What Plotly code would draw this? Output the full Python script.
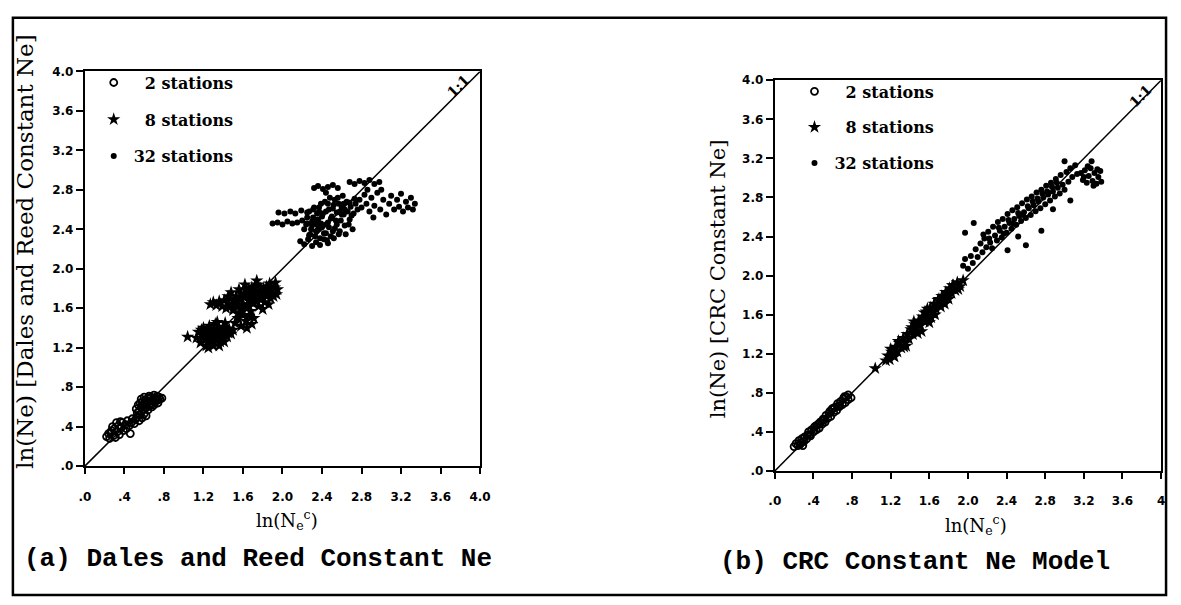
import plotly.graph_objects as go

W, H = 1181, 605

# ---------------- data ----------------
tick_vals = [0.0, 0.4, 0.8, 1.2, 1.6, 2.0, 2.4, 2.8, 3.2, 3.6, 4.0]
tick_text_a = [".0", ".4", ".8", "1.2", "1.6", "2.0", "2.4", "2.8", "3.2", "3.6", "4.0"]
tick_text_b_x = [".0", ".4", ".8", "1.2", "1.6", "2.0", "2.4", "2.8", "3.2", "3.6", "4"]
tick_text_b_y = [".0", ".4", ".8", "1.2", "1.6", "2.0", "2.4", "2.8", "3.2", "3.6", "4.0"]
series_names = ["\u20072 stations", "\u20078 stations", "32 stations"]

# (a) Dales and Reed constant Ne
a_st2_x = [0.22, 0.24, 0.25, 0.27, 0.29, 0.30, 0.31, 0.33, 0.34, 0.35, 0.37, 0.38, 0.39, 0.41, 0.42, 0.43,
           0.45, 0.46, 0.47, 0.48, 0.50, 0.51, 0.53, 0.55, 0.56, 0.58, 0.60, 0.62, 0.28, 0.32, 0.36, 0.26,
           0.52, 0.54, 0.55, 0.57, 0.58, 0.59, 0.60, 0.61, 0.62, 0.63, 0.64, 0.65, 0.66, 0.67, 0.68, 0.69,
           0.70, 0.71, 0.72, 0.73, 0.74, 0.75, 0.76, 0.78, 0.56, 0.60, 0.64, 0.68, 0.53, 0.70,
           0.57, 0.62, 0.66, 0.71, 0.74, 0.59, 0.65, 0.69]
a_st2_y = [0.30, 0.33, 0.28, 0.36, 0.31, 0.38, 0.29, 0.35, 0.41, 0.32, 0.39, 0.44, 0.36, 0.42, 0.38, 0.46,
           0.41, 0.33, 0.44, 0.48, 0.43, 0.47, 0.50, 0.46, 0.52, 0.49, 0.53, 0.51, 0.40, 0.44, 0.45, 0.34,
           0.58, 0.62, 0.56, 0.60, 0.65, 0.57, 0.62, 0.67, 0.59, 0.64, 0.69, 0.61, 0.66, 0.70, 0.63, 0.68,
           0.72, 0.65, 0.69, 0.71, 0.67, 0.70, 0.68, 0.69, 0.64, 0.70, 0.57, 0.60, 0.54, 0.62,
           0.68, 0.66, 0.63, 0.68, 0.64, 0.61, 0.71, 0.66]

a_st8_x = [1.04, 1.13, 1.15, 1.17, 1.19, 1.20, 1.22, 1.23, 1.24, 1.26, 1.27, 1.28, 1.30, 1.31, 1.32, 1.33,
           1.35, 1.36, 1.37, 1.38, 1.40, 1.41, 1.43, 1.44, 1.46, 1.48, 1.50, 1.25, 1.34, 1.42,
           1.18, 1.21, 1.26, 1.29, 1.34, 1.39, 1.45, 1.30, 1.37, 1.42,
           1.52, 1.55, 1.58, 1.60, 1.63, 1.66, 1.69, 1.71, 1.56, 1.64,
           1.27, 1.30, 1.33, 1.36, 1.39, 1.41, 1.43, 1.45, 1.47, 1.49, 1.50, 1.52, 1.53, 1.55, 1.57, 1.58,
           1.60, 1.61, 1.63, 1.64, 1.66, 1.67, 1.69, 1.70, 1.72, 1.73, 1.75, 1.76, 1.78, 1.79, 1.81, 1.82,
           1.84, 1.85, 1.87, 1.88, 1.90, 1.92, 1.94, 1.95, 1.74, 1.62, 1.56, 1.68, 1.80, 1.48, 1.86, 1.93,
           1.45, 1.51, 1.54, 1.59, 1.62, 1.65, 1.68, 1.71, 1.74, 1.77, 1.80, 1.83, 1.86, 1.89, 1.91, 1.58,
           1.66, 1.72, 1.78, 1.84]
a_st8_y = [1.31, 1.30, 1.36, 1.25, 1.33, 1.40, 1.28, 1.22, 1.35, 1.42, 1.30, 1.25, 1.37, 1.32, 1.44, 1.27,
           1.39, 1.22, 1.34, 1.30, 1.41, 1.26, 1.36, 1.31, 1.39, 1.34, 1.38, 1.20, 1.46, 1.45,
           1.38, 1.31, 1.36, 1.28, 1.32, 1.34, 1.35, 1.22, 1.26, 1.39,
           1.45, 1.50, 1.42, 1.53, 1.47, 1.52, 1.44, 1.50, 1.55, 1.40,
           1.64, 1.66, 1.63, 1.67, 1.62, 1.68, 1.60, 1.65, 1.70, 1.63, 1.58, 1.67, 1.72, 1.62, 1.69, 1.75,
           1.64, 1.71, 1.78, 1.60, 1.68, 1.74, 1.81, 1.65, 1.71, 1.77, 1.84, 1.62, 1.69, 1.75, 1.80, 1.66,
           1.72, 1.78, 1.85, 1.70, 1.76, 1.81, 1.74, 1.79, 1.88, 1.84, 1.79, 1.57, 1.59, 1.76, 1.64, 1.86,
           1.72, 1.62, 1.68, 1.60, 1.74, 1.64, 1.70, 1.76, 1.67, 1.73, 1.70, 1.77, 1.74, 1.80, 1.72, 1.71,
           1.79, 1.82, 1.80, 1.82]

a_st32_x = [1.90, 1.95, 2.00, 2.05, 2.10, 2.15, 2.20, 2.25, 2.30, 2.35,
            1.96, 2.02, 2.08, 2.13, 2.19, 2.25, 2.31, 2.37,
            2.22, 2.25, 2.28, 2.30, 2.32, 2.34, 2.36, 2.38, 2.40, 2.41, 2.43, 2.44, 2.46, 2.47, 2.49, 2.50,
            2.52, 2.53, 2.55, 2.56, 2.58, 2.59, 2.60, 2.62, 2.63, 2.65, 2.66, 2.68, 2.69, 2.71, 2.72, 2.74,
            2.76, 2.35, 2.45, 2.57, 2.64, 2.48, 2.39, 2.61,
            2.24, 2.27, 2.31, 2.33, 2.37, 2.39, 2.42, 2.44, 2.47, 2.51, 2.54, 2.57, 2.60, 2.62, 2.67, 2.70,
            2.73, 2.51, 2.40, 2.55, 2.63, 2.46, 2.36, 2.58, 2.68, 2.29, 2.34, 2.49, 2.44, 2.53,
            2.18, 2.22, 2.26, 2.30, 2.34, 2.38, 2.42, 2.46, 2.52, 2.27,
            2.32, 2.36, 2.41, 2.46, 2.51, 2.56, 2.68, 2.73, 2.78, 2.83, 2.88, 2.93, 2.98, 2.86, 2.44,
            2.78, 2.80, 2.83, 2.85, 2.88, 2.90, 2.93, 2.96, 2.99, 3.02, 3.05, 3.08, 3.10, 3.13, 3.16, 3.18,
            3.20, 3.22, 3.25, 3.27, 3.30, 3.32, 3.34, 2.92, 3.00]
a_st32_y = [2.46, 2.47, 2.45, 2.48, 2.46, 2.47, 2.49, 2.46, 2.48, 2.45,
            2.57, 2.56, 2.58, 2.56, 2.59, 2.57, 2.60, 2.58,
            2.40, 2.52, 2.35, 2.44, 2.62, 2.38, 2.50, 2.31, 2.42, 2.56, 2.68, 2.36, 2.47, 2.60, 2.33, 2.53,
            2.65, 2.41, 2.57, 2.72, 2.38, 2.49, 2.62, 2.55, 2.44, 2.68, 2.58, 2.50, 2.63, 2.40, 2.56, 2.66,
            2.60, 2.56, 2.29, 2.66, 2.35, 2.72, 2.66, 2.74,
            2.45, 2.58, 2.52, 2.33, 2.62, 2.46, 2.36, 2.58, 2.42, 2.61, 2.49, 2.35, 2.55, 2.66, 2.45, 2.54,
            2.71, 2.38, 2.53, 2.45, 2.60, 2.66, 2.40, 2.58, 2.67, 2.40, 2.47, 2.51, 2.45, 2.70,
            2.28, 2.25, 2.30, 2.23, 2.27, 2.24, 2.30, 2.26, 2.31, 2.34,
            2.82, 2.84, 2.81, 2.83, 2.85, 2.82, 2.88, 2.86, 2.89, 2.87, 2.90, 2.86, 2.88, 2.80, 2.77,
            2.70, 2.62, 2.75, 2.66, 2.58, 2.72, 2.64, 2.77, 2.60, 2.70, 2.55, 2.66, 2.74, 2.60, 2.70, 2.63,
            2.76, 2.58, 2.68, 2.62, 2.72, 2.60, 2.66, 2.52, 2.80]

# (b) CRC constant Ne model
b_st2_x = [0.20, 0.22, 0.24, 0.25, 0.27, 0.28, 0.30, 0.31, 0.33, 0.34, 0.35, 0.37, 0.38, 0.40, 0.41, 0.43,
           0.44, 0.46, 0.47, 0.49, 0.50, 0.52, 0.53, 0.55, 0.56, 0.58, 0.59, 0.61, 0.62, 0.64, 0.65, 0.67,
           0.68, 0.70, 0.71, 0.73, 0.74, 0.76, 0.76, 0.79, 0.29, 0.45, 0.60,
           0.26, 0.36, 0.42, 0.51, 0.57, 0.66, 0.72]
b_st2_y = [0.25, 0.28, 0.26, 0.31, 0.29, 0.33, 0.30, 0.35, 0.33, 0.37, 0.40, 0.36, 0.42, 0.40, 0.45, 0.42,
           0.47, 0.44, 0.50, 0.48, 0.53, 0.50, 0.57, 0.54, 0.59, 0.56, 0.63, 0.60, 0.65, 0.62, 0.69, 0.66,
           0.71, 0.68, 0.74, 0.70, 0.76, 0.73, 0.78, 0.75, 0.26, 0.48, 0.64,
           0.27, 0.37, 0.46, 0.52, 0.61, 0.67, 0.76]

b_st8_x = [1.04, 1.15, 1.17, 1.19, 1.21, 1.23, 1.25, 1.27, 1.29, 1.31, 1.33, 1.35, 1.37, 1.39, 1.41, 1.43,
           1.45, 1.47, 1.49, 1.51, 1.53, 1.55, 1.57, 1.59, 1.61, 1.63, 1.65, 1.67, 1.69, 1.71, 1.73, 1.75,
           1.77, 1.79, 1.81, 1.83, 1.85, 1.87, 1.89, 1.92, 1.95, 1.52, 1.60, 1.44, 1.66, 1.36, 1.80,
           1.20, 1.28, 1.34, 1.42, 1.48, 1.55, 1.62, 1.70, 1.76, 1.84, 1.90, 1.24, 1.58, 1.72]
b_st8_y = [1.05, 1.13, 1.18, 1.14, 1.22, 1.18, 1.27, 1.22, 1.31, 1.26, 1.36, 1.31, 1.40, 1.35, 1.45, 1.40,
           1.50, 1.44, 1.54, 1.49, 1.58, 1.53, 1.63, 1.57, 1.67, 1.62, 1.71, 1.66, 1.75, 1.70, 1.79, 1.75,
           1.83, 1.78, 1.87, 1.82, 1.90, 1.85, 1.93, 1.89, 1.95, 1.43, 1.52, 1.53, 1.60, 1.28, 1.76,
           1.25, 1.33, 1.27, 1.47, 1.41, 1.62, 1.57, 1.76, 1.71, 1.90, 1.86, 1.17, 1.66, 1.68]

b_st32_x = [1.95, 1.97, 2.00, 2.03, 2.05, 2.08, 2.10, 2.13, 2.15, 2.17, 2.19, 2.21, 2.23, 2.25, 2.26, 2.28,
            2.30, 2.31, 2.33, 2.35, 2.36, 2.38, 2.40, 2.41, 2.43, 2.45, 2.46, 2.48, 2.50, 2.51, 2.53, 2.55,
            2.56, 2.58, 2.60, 2.61, 2.63, 2.65, 2.66, 2.68, 2.70, 2.71, 2.73, 2.75, 2.76, 2.78, 2.80, 2.81,
            2.83, 2.85, 2.86, 2.88, 2.90, 2.91, 2.93, 2.95, 2.96, 2.98, 3.00, 3.02, 3.04, 3.06, 3.08, 3.11,
            3.13, 2.22, 2.32, 2.42, 2.52, 2.62, 2.72, 2.82, 2.92, 2.37, 2.47, 2.57, 2.67, 2.77, 2.87,
            1.97, 2.06, 2.41, 2.60, 2.76, 3.06, 3.00, 3.28, 2.16, 2.52, 2.88,
            3.17, 3.19, 3.21, 3.23, 3.25, 3.27, 3.29, 3.31, 3.33, 3.35, 3.37, 3.38, 3.24, 3.30, 3.20, 3.34]
b_st32_y = [2.10, 2.17, 2.07, 2.20, 2.13, 2.27, 2.19, 2.33, 2.24, 2.38, 2.29, 2.45, 2.34, 2.28, 2.50, 2.41,
            2.36, 2.55, 2.46, 2.39, 2.58, 2.50, 2.44, 2.63, 2.54, 2.48, 2.67, 2.58, 2.52, 2.70, 2.61, 2.56,
            2.74, 2.65, 2.59, 2.78, 2.69, 2.62, 2.81, 2.72, 2.66, 2.85, 2.76, 2.69, 2.88, 2.80, 2.73, 2.92,
            2.83, 2.77, 2.95, 2.86, 2.81, 2.99, 2.90, 2.84, 3.03, 2.93, 2.88, 3.06, 2.96, 3.10, 3.01, 3.13,
            3.04, 2.38, 2.49, 2.57, 2.64, 2.71, 2.79, 2.86, 2.95, 2.43, 2.53, 2.62, 2.76, 2.84, 2.91,
            2.44, 2.54, 2.26, 2.31, 2.46, 2.77, 3.17, 3.17, 2.42, 2.40, 2.68,
            3.05, 2.98, 3.08, 2.95, 3.02, 3.10, 2.97, 3.05, 2.94, 3.01, 3.07, 2.96, 3.12, 2.92, 3.01, 3.09]


# ---------------- layout helpers ----------------
def px(x):
    return x / W


def py(y):
    return 1 - y / H


SERIF = "DejaVu Serif"

fig = go.Figure()


def add_panel(xa, ya, legend, groups, data):
    styles = [
        dict(symbol="circle-open", size=7, color="black", line=dict(width=1.8, color="black")),
        dict(symbol="star", size=10, color="black", line=dict(width=0)),
        dict(symbol="circle", size=6, color="black", line=dict(width=0)),
    ]
    # 1:1 reference line
    fig.add_trace(go.Scatter(x=[0, 4], y=[0, 4], mode="lines", line=dict(color="black", width=1.5),
                             xaxis=xa, yaxis=ya, showlegend=False, hoverinfo="skip"))
    for name, grp, (xs, ys), st in zip(series_names, groups, data, styles):
        fig.add_trace(go.Scatter(x=xs, y=ys, mode="markers", name=name, marker=st,
                                 xaxis=xa, yaxis=ya, legend=legend, legendgroup=grp))


add_panel("x", "y", "legend", ["a2", "a8", "a32"],
          [(a_st2_x, a_st2_y), (a_st8_x, a_st8_y), (a_st32_x, a_st32_y)])
add_panel("x2", "y2", "legend2", ["b2", "b8", "b32"],
          [(b_st2_x, b_st2_y), (b_st8_x, b_st8_y), (b_st32_x, b_st32_y)])

tickfont = dict(family="DejaVu Sans", size=12, color="black", weight="bold")


def axis(domain, ticktext, anchor, is_x):
    d = dict(domain=domain, range=[0, 4], tickmode="array", tickvals=tick_vals, ticktext=ticktext,
             ticks="outside", ticklen=7 if not is_x else 6, tickwidth=1.5, tickcolor="black",
             showline=True, linewidth=2, linecolor="black", mirror=True,
             showgrid=False, zeroline=False, tickfont=tickfont, anchor=anchor)
    if is_x:
        d["ticklabelstandoff"] = 12
    return d


legend_font = dict(family=SERIF, size=16, color="black", weight="bold")

fig.update_layout(
    width=W, height=H,
    margin=dict(l=0, r=0, t=0, b=0),
    paper_bgcolor="white", plot_bgcolor="white",
    xaxis=axis([px(80), px(481)], tick_text_a, "y", True),
    yaxis=axis([py(470), py(66)], tick_text_a, "x", False),
    xaxis2=axis([px(780), px(1172)], tick_text_b_x, "y2", True),
    yaxis2=axis([py(475), py(75)], tick_text_b_y, "x2", False),
    legend=dict(x=px(89), y=py(60), xanchor="left", yanchor="top", bgcolor="rgba(0,0,0,0)",
                font=legend_font, tracegroupgap=13, itemsizing="trace"),
    legend2=dict(x=px(800), y=py(69), xanchor="left", yanchor="top", bgcolor="rgba(0,0,0,0)",
                 font=legend_font, tracegroupgap=12, itemsizing="trace"),
    showlegend=True,
)

ann = []
title_font = dict(family=SERIF, size=18, color="black")
ann.append(dict(x=px(285), y=py(525), text="ln(N<sub>e</sub><sup>c</sup>)", font=title_font))
ann.append(dict(x=px(984), y=py(530), text="ln(N<sub>e</sub><sup>c</sup>)", font=title_font))
ann.append(dict(x=px(20), y=py(250), text="ln(Ne) [Dales and Reed Constant Ne]", textangle=-90,
                font=dict(family=SERIF, size=23, color="black")))
ann.append(dict(x=px(722), y=py(278), text="ln(Ne) [CRC Constant Ne]", textangle=-90,
                font=dict(family=SERIF, size=21, color="black")))
cap_font = dict(family="Liberation Mono", size=26, color="black", weight="bold")
ann.append(dict(x=px(16), y=py(565), text="(a) Dales and Reed Constant Ne", xanchor="left", font=cap_font))
ann.append(dict(x=px(722), y=py(568), text="(b) CRC Constant Ne Model", xanchor="left", font=cap_font))
one_font = dict(family=SERIF, size=14, color="black", weight="bold")
ann.append(dict(x=px(459), y=py(81), text="1:1", textangle=-45, font=one_font))
ann.append(dict(x=px(1151), y=py(91), text="1:1", textangle=-45, font=one_font))
for a in ann:
    a.update(xref="paper", yref="paper", showarrow=False)
    a.setdefault("xanchor", "center")
    a.setdefault("yanchor", "middle")
fig.update_layout(annotations=ann)

# outer frame
fig.add_shape(type="rect", xref="paper", yref="paper", x0=px(7), x1=px(1177), y0=py(602), y1=py(11),
              line=dict(color="black", width=2.5), fillcolor="rgba(0,0,0,0)")

fig.write_html("out.html")
